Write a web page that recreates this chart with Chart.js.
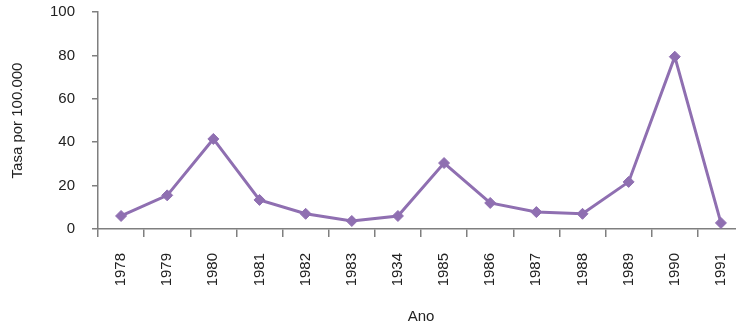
<!DOCTYPE html>
<html>
<head>
<meta charset="utf-8">
<script src="https://cdn.jsdelivr.net/npm/chart.js@4"></script>
<style>
  html, body { margin: 0; padding: 0; background: #fff; overflow: hidden; }
  #wrap { width: 752px; height: 327px; }
</style>
</head>
<body>
<div id="wrap"><canvas id="rateChart"></canvas></div>
<script>
// years as printed on the original (incl. the "1934" typo)
const years = ["1978", "1979", "1980", "1981", "1982", "1983", "1934",
  "1985", "1986", "1987", "1988", "1989", "1990", "1991"];
const rates = [6, 15.5, 41.5, 13.4, 7, 3.7, 6, 30.4, 12, 7.8, 7, 21.7, 79.4, 2.8];
const yTicks = [0, 20, 40, 60, 80, 100];

const purple = "#8f6fb1";
const axisGrey = "#7f7f7f";
const font = { family: "'Liberation Sans', Arial, sans-serif", size: 15 };

const ctx = document.getElementById("rateChart").getContext("2d");
const rateChart = new Chart(ctx, {
  type: "line",
  data: {
    labels: years,
    datasets: [
      {
        label: "Tasa",
        data: rates,
        borderColor: purple,
        backgroundColor: purple,
        borderWidth: 3,
        pointStyle: "rectRot",
        pointRadius: 5.5,
        pointBorderWidth: 1,
        pointBackgroundColor: purple,
        pointBorderColor: purple,
        tension: 0,
      },
    ],
  },
  options: {
    responsive: true,
    maintainAspectRatio: false,
    animation: false,
    layout: { padding: { top: 12, right: 8, left: 0, bottom: 0 } },
    plugins: { legend: { display: false }, tooltip: { enabled: false } },
    scales: {
      x: {
        offset: true,
        grid: {
          display: true,
          offset: true,
          drawOnChartArea: false,
          drawTicks: true,
          tickLength: 8,
          color: axisGrey,
          lineWidth: 1.5,
        },
        border: { color: axisGrey, width: 1.5 },
        ticks: {
          color: "#222",
          font: font,
          minRotation: 90,
          maxRotation: 90,
          autoSkip: false,
          padding: 16,
        },
        title: {
          display: true,
          text: "Ano",
          color: "#222",
          font: font,
          padding: { top: 0, bottom: 1 },
        },
        afterFit: (scale) => {
          scale.height = 98;
          scale.paddingLeft = 0;
          scale.paddingRight = 0;
          scale.paddingTop = 0;
        },
      },
      y: {
        min: 0,
        max: 100,
        afterBuildTicks: (scale) => {
          scale.ticks = yTicks.map((v) => ({ value: v }));
        },
        grid: {
          display: true,
          drawOnChartArea: false,
          drawTicks: true,
          tickLength: 6,
          color: axisGrey,
          lineWidth: 1.5,
        },
        border: { color: axisGrey, width: 1.5 },
        ticks: { color: "#222", font: font, padding: 17 },
        title: {
          display: true,
          text: "Tasa por 100.000",
          color: "#222",
          font: font,
          padding: { top: 9, bottom: 0 },
        },
        afterFit: (scale) => {
          scale.width = 98;
          scale.paddingTop = 0;
          scale.paddingBottom = 0;
        },
      },
    },
  },
});
</script>
</body>
</html>
